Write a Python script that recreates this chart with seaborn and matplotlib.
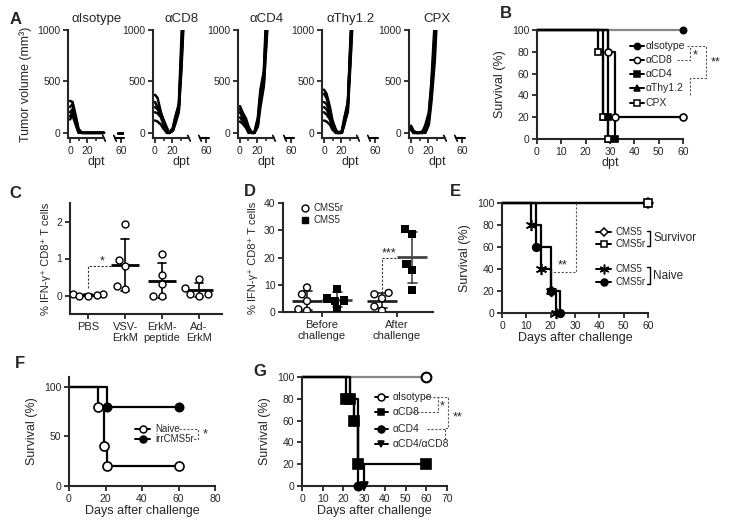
import numpy as np
import pandas as pd
import matplotlib.pyplot as plt
import seaborn as sns

# ---------------- data ----------------
# panel A: tumor volume (mm3) per mouse
tumor_days = [0, 3, 7, 10, 14, 17, 21, 24, 28, 31, 35, 40]
late_days = [56, 62]
iso_vol = [
    [310, 300, 160, 40, 0, 0, 0, 0, 0, 0, 0, 0],
    [250, 280, 130, 30, 0, 0, 0, 0, 0, 0, 0, 0],
    [200, 230, 110, 20, 0, 0, 0, 0, 0, 0, 0, 0],
    [160, 200, 90, 10, 0, 0, 0, 0, 0, 0, 0, 0],
    [130, 170, 70, 0, 0, 0, 0, 0, 0, 0, 0, 0],
]
cd8_vol = [
    [370, 340, 200, 110, 20, 0, 40, 150, 260, 700, 1500],
    [300, 250, 190, 130, 50, 0, 30, 120, 240, 650, 1400],
    [250, 230, 170, 100, 10, 0, 20, 100, 220, 800, 1600],
    [200, 190, 150, 80, 0, 0, 50, 160, 280, 900, 1700],
    [120, 110, 80, 40, 0, 0, 20, 90, 200, 600, 1300],
]
cd4_vol = [
    [260, 200, 140, 60, 0, 10, 150, 420, 600, 1200],
    [230, 180, 120, 50, 0, 0, 120, 380, 550, 1100],
    [200, 150, 100, 40, 0, 0, 100, 350, 500, 1050],
    [150, 120, 70, 20, 0, 0, 80, 300, 480, 900, 1500],
    [110, 90, 50, 0, 0, 0, 60, 250, 450, 850, 1400],
]
thy_vol = [
    [420, 380, 250, 120, 30, 0, 20, 150, 300, 800, 1500],
    [380, 340, 220, 100, 20, 0, 10, 130, 280, 700, 1400],
    [300, 280, 200, 90, 10, 0, 0, 100, 250, 900, 1600],
    [250, 230, 160, 70, 0, 0, 0, 80, 230, 850, 1500],
    [200, 180, 130, 50, 0, 0, 10, 120, 260, 750, 1450],
    [120, 110, 80, 30, 0, 0, 0, 90, 200, 650, 1300],
]
cpx_vol = [
    [70, 20, 0, 0, 0, 50, 150, 400, 900, 1500],
    [60, 10, 0, 0, 20, 80, 200, 500, 1100],
    [50, 0, 0, 0, 0, 30, 120, 350, 800, 1400],
    [40, 0, 0, 0, 10, 60, 180, 450, 1000],
    [30, 0, 0, 0, 0, 0, 80, 300, 700, 1200],
]
tumor_titles = ['\u03b1Isotype', '\u03b1CD8', '\u03b1CD4', '\u03b1Thy1.2', 'CPX']

# panel B: survival (dpt)
b_iso_t, b_iso_s = [0, 60], [100, 100]
b_cd8_t, b_cd8_s = [0, 29, 32, 60], [100, 80, 20, 20]
b_cd4_t, b_cd4_s = [0, 29, 32], [100, 20, 0]
b_thy_t, b_thy_s = [0, 27, 29], [100, 20, 0]
b_cpx_t, b_cpx_s = [0, 25, 27, 29], [100, 80, 20, 0]

# panel C: % IFN-g+ CD8+ T cells
c_groups = ['PBS', 'VSV-ErkM', 'ErkM-peptide', 'Ad-ErkM']
c_ticklabels = ['PBS', 'VSV-\nErkM', 'ErkM-\npeptide', 'Ad-\nErkM']
c_pbs = [0.05, 0.03, 0.02, 0.0, 0.0]
c_vsv = [1.93, 0.95, 0.80, 0.25, 0.17]
c_pep = [1.13, 0.55, 0.30, 0.0, 0.0]
c_ad = [0.45, 0.20, 0.03, 0.03, 0.0]

# panel D
d_phases = ['Before challenge', 'After challenge']
d_ticklabels = ['Before\nchallenge', 'After\nchallenge']
d_cells = ['CMS5r', 'CMS5']
d_before_cms5r = [9.0, 6.5, 4.0, 1.0, 0.5]
d_before_cms5 = [8.5, 5.0, 4.2, 4.0, 1.0]
d_after_cms5r = [7.0, 6.5, 5.0, 2.0, 0.5]
d_after_cms5 = [30.5, 28.7, 17.7, 15.3, 8.0]

# panel E
e_surv5_t, e_surv5_s = [0, 60], [100, 100]
e_surv5r_t, e_surv5r_s = [0, 60], [100, 100]
e_naive5_t, e_naive5_s = [0, 12, 16, 20, 22], [100, 80, 40, 20, 0]
e_naive5r_t, e_naive5r_s = [0, 14, 20, 24], [100, 60, 20, 0]

# panel F
f_naive_t, f_naive_s = [0, 16, 19, 21, 60], [100, 80, 40, 20, 20]
f_irr_t, f_irr_s = [0, 21, 60], [100, 80, 80]

# panel G
g_iso_t, g_iso_s = [0, 60], [100, 100]
g_cd8_t, g_cd8_s = [0, 21, 23, 25, 27, 60], [100, 80, 80, 60, 20, 20]
g_cd4_t, g_cd4_s = [0, 23, 25, 27], [100, 80, 60, 0]
g_dn_t, g_dn_s = [0, 23, 27, 30], [100, 80, 20, 0]

# ---------------- style ----------------
sns.set_style('ticks')
plt.rcParams['font.family'] = ['Liberation Sans', 'DejaVu Sans']
plt.rcParams['axes.linewidth'] = 1.5
plt.rcParams['xtick.major.width'] = 1.3
plt.rcParams['ytick.major.width'] = 1.3
plt.rcParams['xtick.major.size'] = 3.5
plt.rcParams['ytick.major.size'] = 3.5
plt.rcParams['xtick.labelsize'] = 7.5
plt.rcParams['ytick.labelsize'] = 7.5
plt.rcParams['axes.labelsize'] = 9
plt.rcParams['xtick.major.pad'] = 2
plt.rcParams['ytick.major.pad'] = 2

W, H = 734, 529
fig = plt.figure(figsize=(W / 100, H / 100), dpi=100)


def add_ax(x0, ytop, w, h):
    ax = fig.add_axes([x0 / W, 1 - (ytop + h) / H, w / W, h / H])
    sns.despine(ax=ax)
    return ax


def dash(ax, xs, ys):
    ax.plot(xs, ys, transform=ax.transAxes, color='#555555', lw=0.8,
            ls=(0, (2, 1.5)), clip_on=False)


def km(ax, t, s, marker, face, size, line='k', mew=1.2):
    df = pd.DataFrame({'t': t, 's': s})
    sns.lineplot(data=df, x='t', y='s', estimator=None, sort=False,
                 drawstyle='steps-post', color=line, lw=1.6, ax=ax,
                 clip_on=False)
    pts = df.iloc[1:]
    ax.plot(pts['t'], pts['s'], ls='none', marker=marker, mfc=face, mec='k',
            ms=size, mew=mew, clip_on=False, zorder=5)


def leg(ax, y, label, marker, face, size, x0, x1, tx, line='k', fs=7.5):
    ax.plot([x0, x1], [y, y], color=line, lw=1.4, transform=ax.transAxes,
            clip_on=False)
    ax.plot([(x0 + x1) / 2], [y], marker=marker, mfc=face, mec='k', ms=size,
            mew=1.1, transform=ax.transAxes, clip_on=False)
    ax.text(tx, y, label, transform=ax.transAxes, va='center', ha='left',
            fontsize=fs)


# ---------------- panel A ----------------
tumor_sets = [iso_vol, cd8_vol, cd4_vol, thy_vol, cpx_vol]
for i, (x0, vols, title) in enumerate(zip([70, 155, 240, 324, 411],
                                          tumor_sets, tumor_titles)):
    ax = add_ax(x0 - 1.7, 30, 56.1, 108)
    rows = []
    for m, vals in enumerate(vols):
        for d, v in zip(tumor_days, vals):
            rows.append((m, d, v))
    df = pd.DataFrame(rows, columns=['mouse', 'day', 'volume'])
    sns.lineplot(data=df, x='day', y='volume', units='mouse', estimator=None,
                 color='k', lw=1.8, ax=ax)
    if i == 0:
        late = pd.DataFrame([(m, d, 0) for m in range(len(vols)) for d in late_days],
                            columns=['mouse', 'day', 'volume'])
        sns.lineplot(data=late, x='day', y='volume', units='mouse',
                     estimator=None, color='k', lw=1.8, ax=ax)
    ax.set_xlim(-2, 64)
    ax.set_ylim(-50, 1000)
    ax.spines['bottom'].set_bounds(-2, 40)
    ax.plot([53, 63], [-50, -50], color='k', lw=1.5, clip_on=False)
    ax.plot([38.5, 41.5], [-25, -80], color='k', lw=1.2, clip_on=False)
    ax.plot([51.5, 54.5], [-25, -80], color='k', lw=1.2, clip_on=False)
    ax.set_xticks([0, 20, 60])
    ax.set_xticks([10, 30], minor=True)
    ax.tick_params(axis='x', which='minor', length=2.5, width=1.2)
    ax.set_yticks([0, 500, 1000])
    ax.set_xlabel('dpt', labelpad=0)
    ax.set_ylabel('Tumor volume (mm\u00b3)' if i == 0 else '')
    ax.set_title(title, fontsize=9.5, pad=6)

# ---------------- panel B ----------------
ax = add_ax(537, 30, 146, 109)
km(ax, b_iso_t, b_iso_s, 'o', 'k', 4.5, line='#888888')
km(ax, b_thy_t, b_thy_s, '^', 'k', 4.5)
km(ax, b_cpx_t, b_cpx_s, 's', 'white', 5)
km(ax, b_cd4_t, b_cd4_s, 's', 'k', 5)
km(ax, b_cd8_t, b_cd8_s, 'o', 'white', 5)
ax.set_xlim(0, 60)
ax.set_ylim(0, 100)
ax.set_xticks(range(0, 61, 10))
ax.set_yticks(range(0, 101, 20))
ax.set_xlabel('dpt', labelpad=0)
ax.set_ylabel('Survival (%)')
b_y = [0.853, 0.725, 0.596, 0.468, 0.33]
b_items = [('\u03b1Isotype', 'o', 'k'), ('\u03b1CD8', 'o', 'white'),
           ('\u03b1CD4', 's', 'k'), ('\u03b1Thy1.2', '^', 'k'),
           ('CPX', 's', 'white')]
for y, (lab, mk, fc) in zip(b_y, b_items):
    leg(ax, y, lab, mk, fc, 4.5, 0.64, 0.73, 0.745)
dash(ax, [1.03, 1.16, 1.16, 1.045, 1.045], [0.853, 0.853, 0.56, 0.56, 0.39])
dash(ax, [0.96, 1.045, 1.045], [0.725, 0.725, 0.853])
ax.text(1.08, 0.77, '*', transform=ax.transAxes, fontsize=9, ha='center', va='center')
ax.text(1.22, 0.70, '**', transform=ax.transAxes, fontsize=9, ha='center', va='center')

# ---------------- panel C ----------------
ax = add_ax(70, 203, 152, 111)
c_df = pd.DataFrame({
    'group': np.repeat(c_groups, 5),
    'pct': c_pbs + c_vsv + c_pep + c_ad,
})
sns.swarmplot(data=c_df, x='group', y='pct', order=c_groups, color='white',
              edgecolor='k', linewidth=1, size=5, ax=ax)
sns.pointplot(data=c_df, x='group', y='pct', order=c_groups, errorbar='sd',
              capsize=0.2, markers='_', linestyles='none', color='k',
              markersize=20, markeredgewidth=2, err_kws={'linewidth': 1.2},
              ax=ax)
ax.set_xlim(-0.49, 3.62)
ax.set_ylim(-0.5, 2.5)
ax.set_yticks([0, 1, 2])
ax.set_xticks(range(4))
ax.set_xticklabels(c_ticklabels, fontsize=8)
ax.set_xlabel('')
ax.set_ylabel('% IFN-\u03b3\u207a CD8\u207a T cells', fontsize=8)
ax.plot([0, 0, 0.62], [0.2, 0.8, 0.8], color='#333333', lw=0.8, ls=(0, (2, 1.5)))
ax.text(0.38, 0.92, '*', fontsize=9, ha='center', va='center')

# ---------------- panel D ----------------
ax = add_ax(283, 203, 150, 109)
d_df = pd.DataFrame({
    'phase': np.repeat([d_phases[0], d_phases[0], d_phases[1], d_phases[1]], 5),
    'cell': np.tile(np.repeat(d_cells, 5), 2),
    'pct': d_before_cms5r + d_before_cms5 + d_after_cms5r + d_after_cms5,
})
sns.swarmplot(data=d_df[d_df['cell'] == 'CMS5r'], x='phase', y='pct',
              order=d_phases, hue='cell', hue_order=d_cells, dodge=True,
              palette={'CMS5r': 'white', 'CMS5': 'k'}, edgecolor='k',
              linewidth=1, size=5, legend=False, ax=ax)
sns.swarmplot(data=d_df[d_df['cell'] == 'CMS5'], x='phase', y='pct',
              order=d_phases, hue='cell', hue_order=d_cells, dodge=True,
              palette={'CMS5r': 'white', 'CMS5': 'k'}, marker='s',
              size=6, legend=False, ax=ax)
sns.pointplot(data=d_df, x='phase', y='pct', order=d_phases, hue='cell',
              hue_order=d_cells, dodge=0.4, errorbar='sd', capsize=0.12,
              markers='_', linestyles='none', palette=['#222222', '#444444'],
              markersize=22, markeredgewidth=2, err_kws={'linewidth': 1.2},
              legend=False, ax=ax)
ax.set_xlim(-0.52, 1.48)
ax.set_ylim(0, 40)
ax.set_yticks(range(0, 41, 10))
ax.set_xticks([0, 1])
ax.set_xticklabels(d_ticklabels, fontsize=8)
ax.set_xlabel('')
ax.set_ylabel('% IFN-\u03b3\u207a CD8\u207a T cells', fontsize=8)
ax.plot([0.8, 0.8, 1.03], [7, 20, 20], color='#333333', lw=0.8, ls=(0, (2, 1.5)))
ax.text(0.9, 21.5, '***', fontsize=9, ha='center', va='center')
ax.plot([0.147], [0.954], marker='o', mfc='white', mec='k', ms=5, mew=1,
        transform=ax.transAxes, clip_on=False)
ax.plot([0.147], [0.844], marker='s', mfc='k', mec='k', ms=5,
        transform=ax.transAxes, clip_on=False)
ax.text(0.2, 0.954, 'CMS5r', transform=ax.transAxes, va='center', fontsize=7)
ax.text(0.2, 0.844, 'CMS5', transform=ax.transAxes, va='center', fontsize=7)

# ---------------- panel E ----------------
ax = add_ax(502, 203, 146, 110)
asterisk = (6, 2, 0)
km(ax, e_surv5_t, e_surv5_s, 'D', 'white', 5)
km(ax, e_surv5r_t, e_surv5r_s, 's', 'white', 6)
km(ax, e_naive5_t, e_naive5_s, asterisk, 'k', 8)
km(ax, e_naive5r_t, e_naive5r_s, 'o', 'k', 5.5)
ax.set_xlim(0, 60)
ax.set_ylim(0, 100)
ax.set_xticks(range(0, 61, 10))
ax.set_yticks(range(0, 101, 20))
ax.set_xlabel('Days after challenge', labelpad=1)
ax.set_ylabel('Survival (%)')
leg(ax, 0.736, 'CMS5', 'D', 'white', 4.5, 0.644, 0.747, 0.775, fs=7)
leg(ax, 0.627, 'CMS5r', 's', 'white', 5, 0.644, 0.747, 0.775, fs=7)
leg(ax, 0.40, 'CMS5', asterisk, 'k', 7, 0.644, 0.747, 0.775, fs=7)
leg(ax, 0.282, 'CMS5r', 'o', 'k', 5, 0.644, 0.747, 0.775, fs=7)
for y0, y1, lab in [(0.75, 0.61, 'Survivor'), (0.415, 0.265, 'Naive')]:
    ax.plot([0.995, 1.015, 1.015, 0.995], [y0, y0, y1, y1], color='k', lw=1,
            transform=ax.transAxes, clip_on=False)
    ax.text(1.035, (y0 + y1) / 2, lab, transform=ax.transAxes, va='center',
            fontsize=8.5)
ax.plot([30.5, 30.5, 20], [100, 37, 37], color='#555555', lw=0.8,
        ls=(0, (2, 1.5)), clip_on=False)
ax.text(25, 43, '**', fontsize=9, ha='center', va='center')

# ---------------- panel F ----------------
ax = add_ax(69, 377, 146, 109)
km(ax, f_irr_t, f_irr_s, 'o', 'k', 6)
km(ax, f_naive_t, f_naive_s, 'o', 'white', 6.5)
ax.set_xlim(0, 80)
ax.set_ylim(0, 110)
ax.set_xticks(range(0, 81, 20))
ax.set_yticks([0, 50, 100])
ax.set_xlabel('Days after challenge', labelpad=1)
ax.set_ylabel('Survival (%)')
leg(ax, 0.523, 'Naive', 'o', 'white', 5, 0.452, 0.555, 0.59, fs=7)
leg(ax, 0.431, 'irrCMS5r', 'o', 'k', 5, 0.452, 0.555, 0.59, fs=7)
dash(ax, [0.75, 0.885, 0.885, 0.845], [0.523, 0.523, 0.431, 0.431])
ax.text(0.93, 0.47, '*', transform=ax.transAxes, fontsize=9, ha='center', va='center')

# ---------------- panel G ----------------
ax = add_ax(302, 377, 145, 109)
km(ax, g_iso_t, g_iso_s, 'o', 'white', 7, line='#888888', mew=1.5)
km(ax, g_dn_t, g_dn_s, 'v', 'k', 6)
km(ax, g_cd4_t, g_cd4_s, 'o', 'k', 6)
km(ax, g_cd8_t, g_cd8_s, 's', 'k', 6.5)
ax.set_xlim(0, 70)
ax.set_ylim(0, 100)
ax.set_xticks(range(0, 71, 10))
ax.set_yticks(range(0, 101, 20))
ax.set_xlabel('Days after challenge', labelpad=1)
ax.set_ylabel('Survival (%)')
g_y = [0.817, 0.679, 0.523, 0.385]
g_items = [('\u03b1Isotype', 'o', 'white'), ('\u03b1CD8', 's', 'k'),
           ('\u03b1CD4', 'o', 'k'), ('\u03b1CD4/\u03b1CD8', 'v', 'k')]
for y, (lab, mk, fc) in zip(g_y, g_items):
    leg(ax, y, lab, mk, fc, 5, 0.503, 0.593, 0.628)
dash(ax, [0.85, 1.005, 1.005, 0.985, 0.985], [0.817, 0.817, 0.53, 0.53, 0.42])
dash(ax, [0.74, 0.94, 0.94], [0.679, 0.679, 0.817])
dash(ax, [0.86, 0.985], [0.523, 0.523])
ax.text(0.97, 0.73, '*', transform=ax.transAxes, fontsize=9, ha='center', va='center')
ax.text(1.07, 0.63, '**', transform=ax.transAxes, fontsize=9, ha='center', va='center')

# ---------------- panel letters ----------------
for lab, x, y in [('A', 16, 20), ('B', 506, 14), ('C', 15, 194), ('D', 250, 192),
                  ('E', 455, 191), ('F', 20, 363), ('G', 260, 372)]:
    fig.text(x / W, 1 - y / H, lab, fontsize=12, fontweight='bold',
             ha='center', va='center')

fig.savefig('out.png', dpi=100)
